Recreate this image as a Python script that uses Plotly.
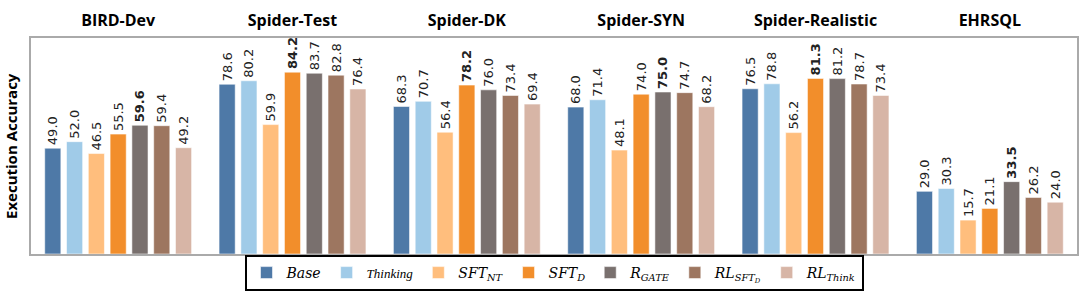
import plotly.graph_objects as go

categories = ["BIRD-Dev", "Spider-Test", "Spider-DK", "Spider-SYN", "Spider-Realistic", "EHRSQL"]
series_names = [
    "<i>Base</i>",
    "<span style=\"font-family:'Liberation Serif';font-size:13px\"><i>Thinking</i></span>",
    "<i>SFT</i><sub><i>NT</i></sub>",
    "<i>SFT</i><sub><i>D</i></sub>",
    "<i>R</i><sub><i>GATE</i></sub>",
    "<i>RL</i><sub><i>SFT</i><sub><i>D</i></sub></sub>",
    "<i>RL</i><sub><i>Think</i></sub>",
]
base = [49.0, 78.6, 68.3, 68.0, 76.5, 29.0]
thinking = [52.0, 80.2, 70.7, 71.4, 78.8, 30.3]
sft_nt = [46.5, 59.9, 56.4, 48.1, 56.2, 15.7]
sft_d = [55.5, 84.2, 78.2, 74.0, 81.3, 21.1]
r_gate = [59.6, 83.7, 76.0, 75.0, 81.2, 33.5]
rl_sft_d = [59.4, 82.8, 73.4, 74.7, 78.7, 26.2]
rl_think = [49.2, 76.4, 69.4, 68.2, 73.4, 24.0]
series_values = [base, thinking, sft_nt, sft_d, r_gate, rl_sft_d, rl_think]
colors = ["#4e79a7", "#a0cbe8", "#ffbe7d", "#f28e2b", "#79706e", "#9d7660", "#d7b5a6"]

group_max = [max(s[i] for s in series_values) for i in range(len(categories))]

fig = go.Figure()
for name, vals, col in zip(series_names, series_values, colors):
    texts = [f"<b>{v:.1f}</b>" if v == group_max[i] else f"{v:.1f}" for i, v in enumerate(vals)]
    fig.add_trace(go.Bar(
        x=categories, y=vals, name=name,
        marker=dict(color=col, line=dict(color="rgba(255,255,255,0.55)", width=1)),
        text=texts, textposition="outside", textangle=-90,
        textfont=dict(family="DejaVu Sans", size=13, color="#222222"),
        constraintext="none", cliponaxis=False,
    ))

fig.update_layout(
    width=1081, height=295,
    margin=dict(l=31, r=4, t=38, b=41, autoexpand=False),
    barmode="group", bargap=0.125, bargroupgap=0.26,
    plot_bgcolor="white", paper_bgcolor="white",
    showlegend=True,
    legend=dict(
        orientation="h", x=0.5, xanchor="center", yref="container", y=1 - 291 / 295, yanchor="bottom",
        bordercolor="black", borderwidth=2, bgcolor="white",
        font=dict(family="DejaVu Serif", size=14, color="black"),
        itemwidth=30, tracegroupgap=0, entrywidthmode="pixels",
    ),
    xaxis=dict(
        side="top", showline=True, mirror=True, linecolor="#aaaaaa", linewidth=2,
        ticks="", ticklabelstandoff=4,
        tickfont=dict(family="Open Sans", size=16, color="black", weight="bold"),
        range=[-0.5, 5.5],
    ),
    yaxis=dict(
        range=[0, 100], showticklabels=False, showgrid=False, zeroline=False,
        showline=True, mirror=True, linecolor="#aaaaaa", linewidth=2, ticks="",
    ),
    annotations=[dict(
        text="<b>Execution Accuracy</b>", textangle=-90, xref="paper", yref="paper",
        x=0, y=0.5, xanchor="center", yanchor="middle", xshift=-20, showarrow=False,
        font=dict(family="Open Sans", size=15, color="black"),
    )],
)

fig.write_html(
    "out.html",
    config={"displayModeBar": False},
    post_script="document.body.style.margin='0';document.body.style.overflow='hidden';",
)
